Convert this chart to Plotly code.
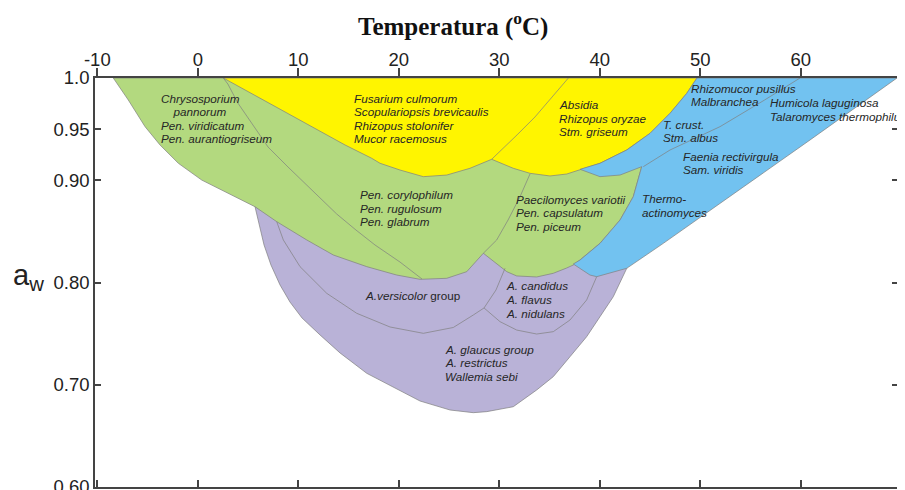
import plotly.graph_objects as go

# ---------------- data (temperature in °C, water activity a_w) ----------------
x_ticks = [-10, 0, 10, 20, 30, 40, 50, 60]
x_tick_text = ["-10", "0", "10", "20", "30", "40", "50", "60"]
y_ticks = [0.60, 0.70, 0.80, 0.90, 0.95, 1.0]
y_tick_text = ["0.60", "0.70", "0.80", "0.90", "0.95", "1.0"]

# Xerophilic Aspergilli region (purple)
purple_x = [5.69, 6.09, 6.59, 7.28, 8.18, 9.17, 10.37, 12.16, 14.15, 16.81, 20.12, 22.11,
            25.1, 27.41, 28.75, 31.39, 33.72, 35.37, 37.03, 38.69, 40.02, 41.34, 42.68,
            40.02, 28.38, 5.69]
purple_y = [0.8741, 0.8562, 0.8367, 0.8171, 0.7976, 0.7809, 0.7653, 0.7487, 0.7311, 0.7112,
            0.6939, 0.6841, 0.6753, 0.6727, 0.6737, 0.6785, 0.6949, 0.7079, 0.7274, 0.747,
            0.7666, 0.7861, 0.8139, 0.8416, 0.8416, 0.8741]

# Penicillia / mesophilic region (green)
green_x = [-8.41, 44.5, 44.17, 43.33, 42.01, 40.02, 38.03, 37.36, 36.71, 35.37, 33.72,
           31.73, 30.74, 29.57, 28.41, 26.76, 24.77, 22.11, 19.79, 16.81, 13.48, 10.84,
           7.85, 5.69, 3.03, 0.39, -1.94, -3.76, -5.25, -6.92, -8.41]
green_y = [1.0, 1.0, 0.9133, 0.8839, 0.8611, 0.8383, 0.822, 0.8171, 0.8142, 0.809, 0.8054,
           0.8064, 0.8106, 0.820, 0.8286, 0.8106, 0.8041, 0.8031, 0.8073, 0.8155, 0.8269,
           0.8416, 0.8595, 0.8741, 0.8872, 0.9002, 0.9166, 0.9345, 0.9524, 0.9785, 1.0]

# Zygomycetes / Fusarium region (yellow)
yellow_x = [2.54, 49.67, 48.65, 46.99, 45.0, 42.68, 40.02, 38.03, 36.71, 35.04, 33.05,
            31.39, 29.24, 27.08, 24.77, 22.44, 20.12, 18.13, 17.3, 14.65, 11.33, 8.01,
            4.70, 2.54]
yellow_y = [1.0, 1.0, 0.985, 0.9655, 0.9459, 0.9296, 0.9166, 0.9107, 0.9061, 0.9042, 0.9068,
            0.9117, 0.9205, 0.9117, 0.9051, 0.9035, 0.91, 0.9166, 0.9215, 0.9345, 0.9524,
            0.9704, 0.9883, 1.0]

# Thermophiles region (blue)
blue_x = [49.67, 69.57, 60.92, 55.27, 50.97, 46.32, 42.68, 41.01, 39.69, 39.02, 37.36,
          38.03, 40.02, 42.01, 43.33, 44.17, 42.01, 40.02, 39.02, 38.03, 40.02, 42.68,
          45.0, 46.99, 48.65, 49.67]
blue_y = [1.0, 1.0, 0.9394, 0.9002, 0.8709, 0.8383, 0.8139, 0.809, 0.8057, 0.8073, 0.8181,
          0.822, 0.8383, 0.8611, 0.8839, 0.9133, 0.9051, 0.9035, 0.9068, 0.9107, 0.9166,
          0.9296, 0.9459, 0.9655, 0.985, 1.0]

# internal boundary lines
line1_x = [2.54, 2.99, 3.98, 5.39, 6.99, 8.97, 11.33, 13.82, 15.74, 17.63, 20.12, 22.31]
line1_y = [1.0, 0.9941, 0.9756, 0.955, 0.9325, 0.913, 0.8905, 0.867, 0.8513, 0.8367, 0.82, 0.8034]
line2_x = [36.87, 35.04, 33.55, 31.76, 30.37, 29.24]
line2_y = [1.0, 0.9785, 0.9619, 0.9443, 0.9315, 0.9205]
line3_x = [33.05, 32.06, 30.87, 29.74, 28.41]
line3_y = [0.9061, 0.8839, 0.8611, 0.8416, 0.8286]
line4_x = [59.92, 56.4, 51.96, 46.99, 44.33]
line4_y = [1.0, 0.9785, 0.9524, 0.9296, 0.9133]
line6_x = [7.85, 8.51, 10.17, 12.83, 15.81, 19.12, 22.44, 25.42, 27.41, 28.48]
line6_y = [0.8595, 0.8416, 0.8155, 0.7894, 0.7699, 0.7565, 0.7503, 0.756, 0.7682, 0.7751]
line7_x = [28.48, 29.67, 30.57]
line7_y = [0.7751, 0.7927, 0.8139]
line8_x = [28.48, 30.07, 31.73, 33.72, 35.37, 37.03, 38.69, 39.69]
line8_y = [0.7751, 0.7617, 0.7535, 0.7496, 0.7519, 0.7633, 0.7829, 0.8057]

# labels: (text, x, y)
label_text = [
    "Chrysosporium", "  pannorum", "Pen. viridicatum", "Pen. aurantiogriseum",
    "Fusarium culmorum", "Scopulariopsis brevicaulis", "Rhizopus stolonifer", "Mucor racemosus",
    "Absidia", "Rhizopus oryzae", "Stm. griseum",
    "Rhizomucor pusillus", "Malbranchea",
    "Humicola laguginosa", "Talaromyces thermophilus",
    "T. crust.", "Stm. albus",
    "Faenia rectivirgula", "Sam. viridis",
    "Pen. corylophilum", "Pen. rugulosum", "Pen. glabrum",
    "Paecilomyces variotii", "Pen. capsulatum", "Pen. piceum",
    "Thermo-", "actinomyces",
    "A.versicolor<span style='font-style:normal'> group</span>",
    "A. candidus", "A. flavus", "A. nidulans",
    "A. glaucus group", "A. restrictus", "Wallemia sebi",
]
label_x = [-3.86, -3.26, -3.86, -3.86,
           15.31, 15.31, 15.31, 15.31,
           35.71, 35.71, 35.71,
           48.88, 48.88,
           56.75, 56.75,
           46.06, 46.06,
           48.05, 48.05,
           15.97, 15.97, 15.97,
           31.46, 31.46, 31.46,
           44.0, 44.0,
           16.47,
           30.47, 30.47, 30.47,
           24.37, 24.37, 24.37]
label_y = [0.9801, 0.967, 0.954, 0.941,
           0.9801, 0.967, 0.954, 0.941,
           0.9736, 0.9606, 0.9472,
           0.9899, 0.9768,
           0.9758, 0.9628,
           0.955, 0.9416,
           0.9237, 0.9103,
           0.8856, 0.8726, 0.8592,
           0.8814, 0.868, 0.8546,
           0.8823, 0.8687,
           0.7871,
           0.7966, 0.7832, 0.7699,
           0.7347, 0.7213, 0.7083]

# ---------------- styling ----------------
C_PURPLE = "#B9B2D7"
C_GREEN = "#B3D97F"
C_YELLOW = "#FFF500"
C_BLUE = "#72C2F0"
EDGE = "#7f7f7f"
AX = "#444444"
X_RANGE = [-10.23, 69.67]

fig = go.Figure()
for xs, ys, col in [(purple_x, purple_y, C_PURPLE), (green_x, green_y, C_GREEN),
                    (yellow_x, yellow_y, C_YELLOW), (blue_x, blue_y, C_BLUE)]:
    fig.add_trace(go.Scatter(x=xs, y=ys, mode="lines", fill="toself", fillcolor=col,
                             line=dict(color=EDGE, width=0.7), hoverinfo="skip",
                             showlegend=False))
for xs, ys in [(line1_x, line1_y), (line2_x, line2_y), (line3_x, line3_y),
               (line4_x, line4_y), (line6_x, line6_y), (line7_x, line7_y),
               (line8_x, line8_y)]:
    fig.add_trace(go.Scatter(x=xs, y=ys, mode="lines", line=dict(color=EDGE, width=0.7),
                             hoverinfo="skip", showlegend=False))

# invisible trace to carry the bottom mirror axis
fig.add_trace(go.Scatter(x=[x_ticks[0]], y=[y_ticks[0]], xaxis="x2", mode="markers",
                         marker=dict(opacity=0), hoverinfo="skip", showlegend=False))

for t, xv, yv in zip(label_text, label_x, label_y):
    fig.add_annotation(x=xv, y=yv, text="<i>" + t + "</i>", showarrow=False,
                       xanchor="left", yanchor="middle",
                       font=dict(family="Liberation Sans, Arial", size=11.7, color="#262626"))

fig.add_annotation(xref="paper", yref="paper", x=0.4462, y=1.13,
                   text="<b>Temperatura (<sup>o</sup>C)</b>", showarrow=False,
                   xanchor="center", yanchor="middle",
                   font=dict(family="Liberation Serif, Times New Roman", size=25, color="#111111"))
fig.add_annotation(xref="paper", yref="y", x=-0.104, y=0.805,
                   text="a<sub>w</sub>", showarrow=False, xanchor="left", yanchor="middle",
                   font=dict(family="Liberation Sans, Arial", size=29, color="#222222"))

tickfont = dict(family="Liberation Sans, Arial", size=18.5, color="#222222")
# the page body has an 8px default margin; size the figure so the plot area
# lands at the same window position as the reference
fig.update_layout(
    width=897, height=482,
    margin=dict(l=87, r=7, t=70, b=3, autoexpand=False),
    paper_bgcolor="white", plot_bgcolor="white",
    xaxis=dict(side="top", range=X_RANGE, tickvals=x_ticks, ticktext=x_tick_text,
               ticks="outside", ticklen=8, tickwidth=1.5, tickcolor=AX,
               ticklabelstandoff=-5, automargin=False,
               showline=True, linecolor=AX, linewidth=1.5, showgrid=False,
               zeroline=False, tickfont=tickfont, anchor="y"),
    xaxis2=dict(side="bottom", overlaying="x", range=X_RANGE, tickvals=x_ticks,
                ticks="inside", ticklen=7, tickwidth=1.5, tickcolor=AX, automargin=False,
                showticklabels=False, showline=True, linecolor=AX, linewidth=1.5,
                showgrid=False, zeroline=False, anchor="y"),
    yaxis=dict(range=[0.6, 1.0], tickvals=y_ticks, ticktext=y_tick_text,
               ticks="inside", ticklen=6, tickwidth=1.5, tickcolor=AX,
               ticklabeloverflow="allow", automargin=False,
               showline=True, linecolor=AX, linewidth=1.5, mirror="ticks",
               showgrid=False, zeroline=False, tickfont=tickfont),
)

fig.write_html("out.html")
